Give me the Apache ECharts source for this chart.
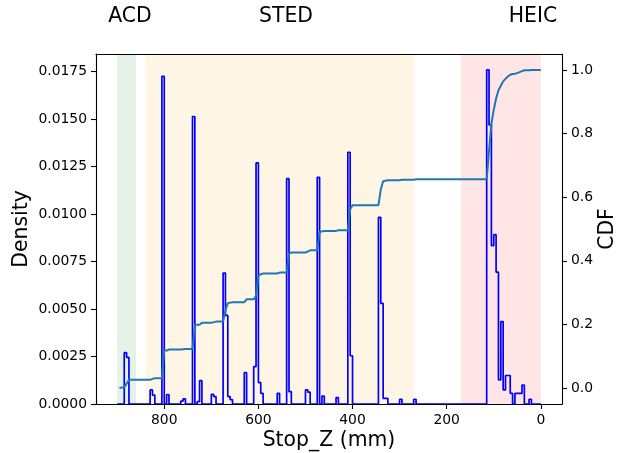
<!DOCTYPE html>
<html>
<head>
<meta charset="utf-8">
<script src="https://cdn.jsdelivr.net/npm/echarts@6/dist/echarts.min.js"></script>
<style>
  html, body { margin: 0; padding: 0; background: #ffffff; }
  #chart { width: 626px; height: 453px; }
</style>
</head>
<body>
<div id="chart"></div>
<script>
// Histogram of stopping positions: lower edge (mm) of each non-empty 5 mm bin and its density
const BIN_WIDTH = 5;
const binLow = [880, 875, 825, 820, 800, 790, 760, 755, 735, 725, 720, 695, 690,
  670, 665, 660, 655, 625, 605, 600, 595, 590, 555, 535, 530, 495, 490, 470, 460,
  430, 405, 400, 340, 335, 330, 325, 295, 265,
  110, 105, 100, 95, 90, 85, 80, 75, 70, 65, 60, 50, 45, 40, 35, 20];
const density = [0.0027, 0.00245, 0.00074, 0.00047, 0.01725, 0.0005, 0.00015, 0.00027,
  0.01513, 0.00012, 0.00123, 0.00051, 0.00039,
  0.00689, 0.00466, 0.00039, 0.00023, 0.00165, 0.00197, 0.01269, 0.00113, 0.00056,
  0.00056, 0.01186, 0.00065, 0.00074, 0.00062, 0.01193, 0.00042,
  0.00034, 0.01325, 0.00254, 0.00982, 0.0053, 0.0003, 0.0003, 0.00025, 0.00025,
  0.01759, 0.01469, 0.00834, 0.00891, 0.00694, 0.00127, 0.00434, 0.00074, 0.0015,
  0.0015, 0.00056, 0.00056, 0.00056, 0.00056, 0.001, 0.00025];
const histRange = [900, 0];

// Cumulative distribution, accumulated from the entrance (high Z) downwards
const cdfZ = [895, 885, 880, 875, 830, 825, 820, 805, 800, 795, 790, 765, 755, 740, 735,
  730, 725, 720, 700, 690, 675, 670, 665, 655, 630, 625, 610, 605, 600, 595, 590, 560,
  555, 540, 535, 530, 500, 490, 475, 470, 465, 460, 435, 430, 410, 405, 400, 345, 340,
  335, 325, 300, 295, 270, 265, 115, 110, 105, 100, 95, 90, 85, 80, 75, 70, 65, 60, 55,
  50, 45, 40, 35, 25, 20, 0];
const cdfValue = [0.000, 0.003, 0.014, 0.026, 0.026, 0.029, 0.031, 0.032, 0.118, 0.118,
  0.121, 0.121, 0.123, 0.123, 0.198, 0.199, 0.199, 0.205, 0.205, 0.209, 0.209, 0.244,
  0.267, 0.270, 0.270, 0.279, 0.279, 0.289, 0.352, 0.358, 0.360, 0.360, 0.363, 0.363,
  0.423, 0.426, 0.426, 0.433, 0.433, 0.492, 0.492, 0.494, 0.494, 0.496, 0.496, 0.562,
  0.575, 0.575, 0.624, 0.650, 0.653, 0.653, 0.655, 0.655, 0.656, 0.656, 0.746, 0.830,
  0.875, 0.910, 0.936, 0.950, 0.964, 0.972, 0.979, 0.985, 0.987, 0.988, 0.990, 0.993,
  0.996, 0.999, 0.999, 1.000, 1.000];

// Detector regions along Z (mm)
const regionNames = ['ACD', 'STED', 'HEIC'];
const regionFrom = [900, 840, 170];
const regionTo = [860, 270, 0];
const regionColors = ['#e5f2e5', '#fff5e5', '#ffe5e5'];
const regionLabelX = [130, 286, 533];

// Tick labels
const xTicks = [0, 200, 400, 600, 800];
const densityTicks = [0, 0.0025, 0.005, 0.0075, 0.01, 0.0125, 0.015, 0.0175];
const cdfTicks = [0, 0.2, 0.4, 0.6, 0.8, 1.0];

// Step outline of the histogram (matplotlib histtype="step")
function stepOutline() {
  const order = binLow.map((_, i) => i).sort((a, b) => binLow[b] - binLow[a]);
  const pts = [[histRange[0], 0]];
  let prevLow = histRange[0];
  order.forEach(i => {
    const hi = binLow[i] + BIN_WIDTH, lo = binLow[i];
    if (prevLow !== hi) { pts.push([prevLow, 0]); pts.push([hi, 0]); }
    pts.push([hi, density[i]]);
    pts.push([lo, density[i]]);
    prevLow = lo;
  });
  pts.push([prevLow, 0]);
  pts.push([histRange[1], 0]);
  return pts;
}

const FONT = 'DejaVu Sans';
const TITLE_FONT = '20.4px "DejaVu Sans"';
const tickLabel = { fontFamily: FONT, fontSize: 13.9, color: '#000' };

function label(text, x, y, rotation) {
  return {
    type: 'text', x: x, y: y, rotation: rotation || 0,
    style: { text: text, font: TITLE_FONT, fill: '#000', align: 'center', verticalAlign: 'middle',
      textAlign: 'center', textVerticalAlign: 'middle' }
  };
}

const chart = echarts.init(document.getElementById('chart'), null, { renderer: 'canvas' });
chart.setOption({
  animation: false,
  backgroundColor: '#ffffff',
  grid: { left: 96, right: 64, top: 54, bottom: 49, containLabel: false },
  xAxis: [{
    type: 'value', min: -45, max: 945, inverse: true, position: 'bottom', z: 10,
    axisLine: { show: true, onZero: false, lineStyle: { color: '#000', width: 1.1 } },
    axisTick: { show: true, length: 5, customValues: xTicks, lineStyle: { color: '#000', width: 1.1 } },
    axisLabel: Object.assign({ margin: 9, customValues: xTicks }, tickLabel),
    splitLine: { show: false }
  }, {
    type: 'value', min: -45, max: 945, inverse: true, position: 'top', z: 10,
    axisLine: { show: true, onZero: false, lineStyle: { color: '#000', width: 1.1 } },
    axisTick: { show: false }, axisLabel: { show: false }, splitLine: { show: false }
  }],
  yAxis: [{
    type: 'value', min: 0, max: 0.01842, position: 'left', z: 10,
    axisLine: { show: true, onZero: false, lineStyle: { color: '#000', width: 1.1 } },
    axisTick: { show: true, length: 5, customValues: densityTicks, lineStyle: { color: '#000', width: 1.1 } },
    axisLabel: Object.assign({ margin: 9, customValues: densityTicks, formatter: v => v.toFixed(4) }, tickLabel),
    splitLine: { show: false }
  }, {
    type: 'value', min: -0.05, max: 1.05, position: 'right', z: 10,
    axisLine: { show: true, onZero: false, lineStyle: { color: '#000', width: 1.1 } },
    axisTick: { show: true, length: 5, customValues: cdfTicks, lineStyle: { color: '#000', width: 1.1 } },
    axisLabel: Object.assign({ margin: 9, customValues: cdfTicks, formatter: v => v.toFixed(1) }, tickLabel),
    splitLine: { show: false }
  }],
  series: [{
    name: 'regions', type: 'line', xAxisIndex: 0, yAxisIndex: 0, z: 1,
    data: [], silent: true, showSymbol: false,
    markArea: {
      silent: true,
      data: regionNames.map((n, i) => [
        { xAxis: regionFrom[i], itemStyle: { color: regionColors[i], opacity: 1 } },
        { xAxis: regionTo[i] }
      ])
    }
  }, {
    name: 'Density', type: 'line', xAxisIndex: 0, yAxisIndex: 0, z: 3,
    data: stepOutline(), showSymbol: false, silent: true,
    lineStyle: { color: '#0000ff', width: 1.7 }
  }, {
    name: 'CDF', type: 'line', xAxisIndex: 0, yAxisIndex: 1, z: 4,
    data: cdfZ.map((z, i) => [z, cdfValue[i]]), showSymbol: false, silent: true,
    lineStyle: { color: '#1f77b4', width: 2 }
  }],
  graphic: [
    label(regionNames[0], regionLabelX[0], 17),
    label(regionNames[1], regionLabelX[1], 17),
    label(regionNames[2], regionLabelX[2], 17),
    label('Stop_Z (mm)', 329, 441),
    label('Density', 22, 229, Math.PI / 2),
    label('CDF', 608, 229, Math.PI / 2)
  ]
});
</script>
</body>
</html>
